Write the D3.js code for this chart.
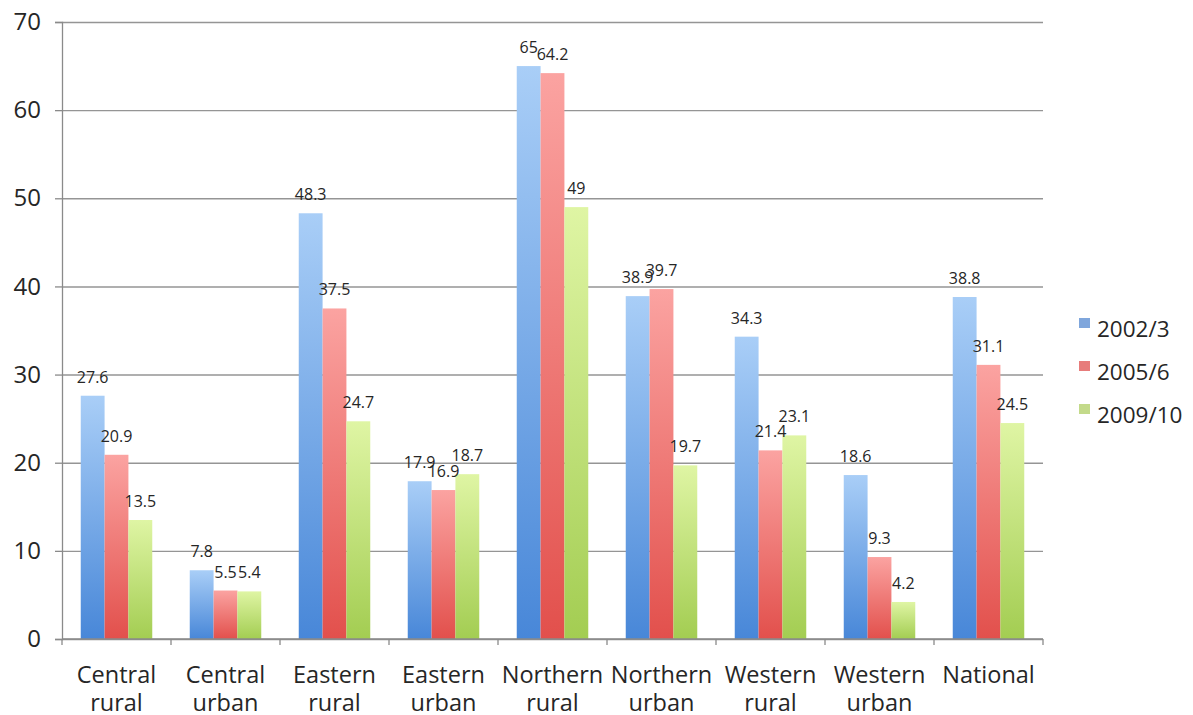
<!DOCTYPE html>
<html>
<head>
<meta charset="utf-8">
<script src="https://cdn.jsdelivr.net/npm/d3@7"></script>
<style>
  html, body { margin: 0; padding: 0; background: #ffffff; }
  svg { display: block; }
  text { font-family: "Open Sans", sans-serif; fill: #262626; }
</style>
</head>
<body>
<svg id="chart" width="1193" height="715"></svg>
<script>
// Regions (two-line labels) and the three survey rounds
const categories = [
  ["Central", "rural"], ["Central", "urban"], ["Eastern", "rural"],
  ["Eastern", "urban"], ["Northern", "rural"], ["Northern", "urban"],
  ["Western", "rural"], ["Western", "urban"], ["National", ""]
];
const seriesNames = ["2002/3", "2005/6", "2009/10"];
const values2002 = [27.6, 7.8, 48.3, 17.9, 65, 38.9, 34.3, 18.6, 38.8];
const values2005 = [20.9, 5.5, 37.5, 16.9, 64.2, 39.7, 21.4, 9.3, 31.1];
const values2009 = [13.5, 5.4, 24.7, 18.7, 49, 19.7, 23.1, 4.2, 24.5];
const yTicks = [0, 10, 20, 30, 40, 50, 60, 70];

const seriesValues = [values2002, values2005, values2009];
const palette = [
  { top: "#a9cef7", bottom: "#4887d8", key: "#7fa6dc" },
  { top: "#fba3a1", bottom: "#e2504c", key: "#e77c7b" },
  { top: "#dff5a4", bottom: "#a3cd52", key: "#c3da8a" }
];

const svg = d3.select("#chart");
const plot = { left: 62, right: 1043, top: 22, bottom: 639 };

const x0 = d3.scaleBand()
  .domain(d3.range(categories.length))
  .range([plot.left, plot.right])
  .padding(0);
const bw = x0.bandwidth();
const x1 = d3.scaleBand()
  .domain(d3.range(seriesNames.length))
  .range([bw * 0.172, bw * 0.828])
  .padding(0);
const y = d3.scaleLinear().domain([0, 70]).range([plot.bottom, plot.top]);

// Per-bar vertical gradients
const defs = svg.append("defs");
palette.forEach((p, i) => {
  const g = defs.append("linearGradient")
    .attr("id", "grad" + i)
    .attr("x1", 0).attr("y1", 0).attr("x2", 0).attr("y2", 1);
  g.append("stop").attr("offset", "0%").attr("stop-color", p.top);
  g.append("stop").attr("offset", "100%").attr("stop-color", p.bottom);
});

// Gridlines
svg.append("g")
  .attr("transform", `translate(${plot.left},0)`)
  .call(d3.axisLeft(y).tickValues(yTicks).tickSize(-(plot.right - plot.left)).tickFormat(""))
  .call(g => g.select(".domain").remove())
  .call(g => g.selectAll("line").attr("stroke", "#959595").attr("stroke-width", 1.4));

// Y axis
svg.append("g")
  .attr("transform", `translate(${plot.left},0)`)
  .call(d3.axisLeft(y).tickValues(yTicks).tickSize(7).tickPadding(14))
  .call(g => g.select(".domain").attr("stroke", "#8a8a8a").attr("stroke-width", 1.3))
  .call(g => g.selectAll("line").attr("stroke", "#8a8a8a").attr("stroke-width", 1.3))
  .call(g => g.selectAll("text")
    .attr("font-size", "24px")
    .attr("font-family", "'Open Sans', sans-serif")
    .attr("fill", "#262626"));

// Bars
const groups = svg.append("g").selectAll("g")
  .data(categories.map((c, i) => i))
  .join("g")
  .attr("transform", i => `translate(${x0(i)},0)`);

groups.selectAll("rect")
  .data(i => seriesValues.map((vals, s) => ({ s, v: vals[i] })))
  .join("rect")
  .attr("x", d => x1(d.s))
  .attr("width", x1.bandwidth())
  .attr("y", d => y(d.v))
  .attr("height", d => y(0) - y(d.v))
  .attr("fill", d => `url(#grad${d.s})`);

// Value labels
groups.selectAll("text.val")
  .data(i => seriesValues.map((vals, s) => ({ s, v: vals[i] })))
  .join("text")
  .attr("class", "val")
  .attr("x", d => x1(d.s) + x1.bandwidth() / 2)
  .attr("y", d => y(d.v) - 13)
  .attr("text-anchor", "middle")
  .attr("font-family", "'DejaVu Sans', sans-serif")
  .attr("font-size", "16px")
  .attr("fill", "#333")
  .text(d => d.v);

// X axis baseline and category boundary ticks
svg.append("line")
  .attr("x1", plot.left).attr("x2", plot.right)
  .attr("y1", y(0)).attr("y2", y(0))
  .attr("stroke", "#8a8a8a").attr("stroke-width", 1.3);
svg.append("g").selectAll("line")
  .data(d3.range(categories.length + 1))
  .join("line")
  .attr("x1", i => i < categories.length ? x0(i) : x0(i - 1) + bw)
  .attr("x2", i => i < categories.length ? x0(i) : x0(i - 1) + bw)
  .attr("y1", y(0)).attr("y2", y(0) + 6)
  .attr("stroke", "#8a8a8a").attr("stroke-width", 1.3);

// Category labels
const catLabels = svg.append("g").selectAll("text")
  .data(categories)
  .join("text")
  .attr("text-anchor", "middle")
  .attr("font-size", "23.5px")
  .attr("fill", "#262626");
catLabels.append("tspan")
  .attr("x", (d, i) => x0(i) + bw / 2)
  .attr("y", 683)
  .text(d => d[0]);
catLabels.append("tspan")
  .attr("x", (d, i) => x0(i) + bw / 2)
  .attr("y", 711)
  .text(d => d[1]);

// Legend
const legend = svg.append("g").attr("transform", "translate(1079,318)");
const items = legend.selectAll("g")
  .data(seriesNames)
  .join("g")
  .attr("transform", (d, i) => `translate(0,${i * 43})`);
items.append("rect")
  .attr("width", 11).attr("height", 10)
  .attr("fill", (d, i) => palette[i].key);
items.append("text")
  .attr("x", 18).attr("y", 19)
  .attr("font-size", "22.5px")
  .text(d => d);
</script>
</body>
</html>
